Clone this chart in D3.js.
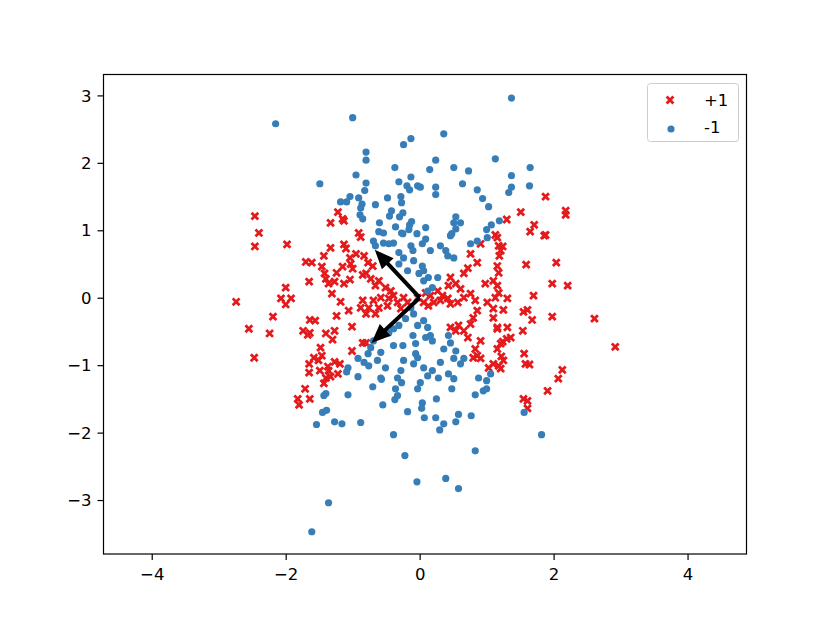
<!DOCTYPE html>
<html><head><meta charset="utf-8">
<script src="https://cdn.jsdelivr.net/npm/d3@7"></script>
<style>body{margin:0;background:#fff}svg{display:block}text{font-family:"DejaVu Sans",sans-serif}</style>
</head><body><svg id="c" width="830" height="623"></svg>
<script>
const xTicks=[-4,-2,0,2,4];
const yTicks=[-3,-2,-1,0,1,2,3];
const seriesNames=["+1","-1"];
const redPoints=[
[1.88,1.50],[1.51,1.27],[1.30,1.16],[2.18,1.29],[2.18,1.23],[1.71,1.08],[1.65,0.98],[1.88,0.93],[1.13,0.93],
[-2.46,1.21],[-2.40,0.96],[-1.22,1.27],[-1.33,1.11],[-1.15,1.17],[-1.13,1.14],[-0.91,0.96],
[-2.46,0.76],[-1.98,0.79],[-1.70,0.53],[-1.61,0.52],[-1.43,0.62],[-1.33,0.74],[-1.13,0.79],[-1.10,0.73],[-0.95,0.65],
[-1.04,0.59],[-0.88,0.90],[-1.03,0.50],[-1.15,0.46],[-1.00,0.43],[-1.24,0.37],[-1.46,0.46],[-1.42,0.36],[-1.40,0.28],
[-1.27,0.24],[-1.36,0.21],[-1.13,0.21],[-1.04,0.27],[-0.85,0.34],[-1.65,0.24],[-2.00,0.15],[-1.31,0.06],[-2.07,-0.01],
[-1.92,-0.01],[-2.00,-0.10],[-2.74,-0.06],[-1.18,-0.06],[-0.85,-0.04],[-0.88,-0.15],[-1.06,-0.19],[-1.24,-0.27],
[-2.19,-0.28],[-1.64,-0.33],[-1.56,-0.34],[-1.01,-0.43],[-2.55,-0.46],[-2.24,-0.53],[-1.74,-0.49],[-1.64,-0.52],
[-1.67,-0.55],[-1.40,-0.53],[-1.27,-0.49],[-1.30,-0.62],[-1.48,-0.74],[-1.01,-0.79],[-0.85,-0.67],[-1.46,-0.86],
[-1.58,-0.89],[-2.47,-0.89],[-1.51,-0.93],[-1.65,-0.98],[-1.27,-0.95],[-1.19,-0.98],[-1.37,-1.02],[-1.65,-1.11],
[-1.49,-1.08],[-1.36,-1.08],[-1.33,-1.17],[-1.22,-1.13],[-1.40,-1.19],[-1.43,-1.27],[-1.71,-1.35],[-1.64,-1.50],
[-1.82,-1.50],[-1.80,-1.59],
[2.07,-1.20],[1.91,-1.38],[1.55,-1.50],[1.61,-1.53],[1.61,-1.64],
[1.86,0.92],[1.16,0.89],[1.18,0.77],[1.24,0.76],[1.21,0.70],[1.19,0.62],[1.16,0.47],[1.18,0.37],[1.59,0.49],[2.04,0.52],
[1.98,0.21],[2.21,0.18],[1.16,0.18],[1.18,0.07],[1.70,0.03],[1.31,-0.01],[1.25,-0.18],[1.55,-0.21],[1.61,-0.18],
[1.68,-0.33],[1.98,-0.28],[2.61,-0.31],[1.31,-0.44],[1.16,-0.46],[1.54,-0.49],[1.36,-0.59],[1.30,-0.61],[1.24,-0.65],
[1.21,-0.68],[2.92,-0.73],[1.16,-0.76],[1.56,-0.83],[1.22,-0.87],[1.25,-0.93],[1.58,-0.98],[1.64,-0.99],[2.13,-1.07],
[1.18,-1.01],[1.21,-1.05],
[0.91,0.80],[0.76,0.65],[0.86,0.52],[0.72,0.44],[0.66,0.36],[0.46,0.30],[0.43,0.18],[0.54,0.21],[0.61,0.13],[0.98,0.21],
[1.10,0.25],[0.66,0.00],[0.76,0.06],[0.57,-0.07],[0.46,-0.09],[0.83,-0.04],[0.86,-0.19],[1.01,-0.07],[1.13,0.00],
[1.10,-0.16],[0.80,-0.30],[0.76,-0.39],[0.66,-0.49],[0.72,-0.59],[0.58,-0.41],[0.54,-0.49],[0.46,-0.44],[1.10,-0.30],
[1.16,-0.44],[0.91,-0.64],[0.83,-0.76],[0.86,-0.86],[0.91,-0.90],[1.10,-0.98],[1.03,-1.04],[0.80,-0.89],
[-0.83,0.62],[-0.77,0.52],[-0.70,0.47],[-0.80,0.36],[-0.73,0.28],[-0.61,0.25],[-0.66,0.18],[-0.51,0.15],[-0.43,0.10],
[-0.39,0.03],[-0.46,-0.01],[-0.58,0.00],[-0.69,-0.04],[-0.76,-0.15],[-0.61,-0.15],[-0.48,-0.12],[-0.33,-0.07],
[-0.24,0.00],[-0.18,-0.07],[-0.28,-0.16],[-0.80,-0.24],[-0.66,-0.24],[0.09,0.07],[0.16,0.03],[0.27,0.10],[0.34,0.03],
[0.21,-0.07],[0.31,-0.04],[0.42,-0.01],[0.13,-0.12],[0.06,-0.07],[-0.03,0.00],[-0.80,-0.67]
];
const bluePoints=[
[1.37,2.96],[-1.00,2.67],[-2.15,2.58],[0.36,2.43],[-0.13,2.36],[-0.24,2.27],[-0.80,2.16],[-0.80,2.04],[1.13,2.06],
[0.24,2.04],[-0.37,1.93],[0.15,1.90],[0.51,1.93],[0.73,1.88],[1.65,1.93],[-0.95,1.82],[-0.13,1.79],[1.37,1.81],
[-0.31,1.72],[-1.49,1.69],[-0.80,1.70],[0.64,1.69],[-0.19,1.66],[-0.03,1.66],[0.01,1.64],[0.24,1.64],[1.64,1.66],
[1.37,1.64],[-0.15,1.60],[-0.82,1.59],[0.24,1.53],[0.86,1.60],[1.33,1.56],[-1.04,1.50],[-0.48,1.48],[-0.28,1.50],
[-1.18,1.42],[-1.09,1.42],[-0.91,1.48],[-0.86,1.39],[-0.27,1.41],[-0.66,1.38],[0.94,1.47],[1.03,1.35],[-0.88,1.33],
[-0.42,1.29],[-0.45,1.21],[-0.25,1.26],[-0.89,1.23],[-0.30,1.20],[-0.85,1.17],[1.19,1.14],[-0.12,1.13],[-0.15,1.08],
[-0.60,1.11],[0.54,1.20],[0.51,1.11],[0.61,1.11],[0.54,1.02],[1.07,1.08],[1.00,1.01],[0.09,1.04],[-0.36,1.05],
[-0.16,1.01],[-0.27,0.96],[-0.61,0.98],[-0.54,0.96],[0.48,0.95],
[-0.66,0.77],[-0.69,0.84],[-0.54,0.81],[-0.46,0.80],[-0.39,0.81],[-0.25,0.95],[-0.13,0.77],[-0.10,0.70],[0.04,0.80],
[0.09,0.87],[-0.04,0.95],[0.16,0.70],[0.31,0.77],[0.39,0.70],[0.46,0.92],[0.42,0.62],[0.51,0.59],[0.76,0.80],
[0.86,0.84],[1.01,0.89],[-0.31,0.67],[-0.24,0.59],[-0.31,0.50],[-0.09,0.55],[0.04,0.47],[-0.18,0.40],[-0.01,0.36],
[0.06,0.40],[0.13,0.30],[0.19,0.15],[0.12,0.10],[0.06,0.25],[0.27,0.30],[-0.13,-0.15],[-0.09,-0.24],[-0.21,-0.31],
[-0.31,-0.41],[-0.39,-0.46],[-0.46,-0.52],[-0.58,-0.56],[-0.69,-0.64],[-0.03,-0.41],[0.06,-0.34],[0.12,-0.44],
[0.16,-0.56],[0.19,-0.64],[0.09,-0.59],[-0.10,-0.56],[-0.06,-0.68],[-0.25,-0.71],[-0.39,-0.71],[-0.73,-0.74],
[0.43,-0.56],[0.46,-0.67],[0.36,-0.76],[0.54,-0.79],[-0.58,-0.81],[-0.77,-0.83],[-0.06,-0.83],[-0.03,-0.89],
[0.66,-0.90],[0.51,-0.90],[0.31,-0.96],[-0.09,-0.98],[0.61,-0.98],[-0.24,-0.93],[-0.63,-0.93],[-0.51,-1.04],
[-0.76,-1.01],[-0.28,-1.08],[0.06,-1.04],[0.19,-1.08],[0.43,-1.13],[0.28,-1.19],[0.88,-1.19],[1.06,-1.13],
[-0.33,-1.19],[-0.58,-1.19],
[-0.92,-0.90],[-0.83,-0.96],[-1.07,-1.04],[-1.09,-1.10],[-0.92,-1.17],[-1.07,-1.44],[-1.43,-1.45],[-1.40,-1.42],
[-1.45,-1.70],[-1.39,-1.67],[-1.54,-1.88],[-1.27,-1.84],[-1.16,-1.87],[-0.88,-1.85],[-1.36,-3.04],[-1.61,-3.47],
[-0.70,-1.32],[-0.57,-1.21],[-0.27,-1.26],[-0.36,-1.35],[-0.33,-1.45],[-0.37,-1.51],[0.01,-1.26],[-0.03,-1.35],
[0.12,-1.16],[0.51,-1.20],[0.48,-1.35],[0.25,-1.50],[0.04,-1.56],[0.03,-1.64],[-0.55,-1.59],[-0.18,-1.69],
[0.07,-1.78],[0.24,-1.78],[0.36,-1.87],[0.30,-1.96],[0.58,-1.73],[0.54,-1.84],[0.77,-1.75],[0.83,-1.44],
[0.95,-1.38],[1.00,-1.35],[1.00,-1.23],[-0.39,-2.03],[-0.22,-2.34],[0.83,-2.27],[-0.04,-2.73],[0.39,-2.68],
[0.58,-2.83],[1.56,-1.70],[1.82,-2.03]
];
const arrowVectors=[[-0.67,0.71],[-0.72,-0.67]];

const svg=d3.select("#c");
const L=103.5,R=746.5,T=74.5,B=554;
const x=d3.scaleLinear().domain([-4.72,4.88]).range([L,R]);
const y=d3.scaleLinear().domain([-3.80,3.31]).range([B,T]);
const red="#e41a1c", blue="#377eb8";
const FS=16.5;

// axes
const xa=svg.append("g").attr("transform",`translate(0,${B})`)
 .call(d3.axisBottom(x).tickValues(xTicks).tickSize(6).tickPadding(6).tickFormat(d=>d<0?"\u2212"+(-d):d));
const ya=svg.append("g").attr("transform",`translate(${L},0)`)
 .call(d3.axisLeft(y).tickValues(yTicks).tickSize(6).tickPadding(6).tickFormat(d=>d<0?"\u2212"+(-d):d));
[xa,ya].forEach(g=>{g.select(".domain").remove();g.selectAll("line").attr("stroke","#000").attr("stroke-width",1.2);
 g.selectAll("text").attr("font-size",FS).attr("fill","#000").attr("font-family","DejaVu Sans");});
xa.selectAll("text").attr("dy","0.82em");
ya.selectAll("text").attr("dy","0.34em");

const plot=svg.append("g");
function xMark(g,cx,cy){
  const s=3.4;
  g.append("path").attr("d",`M${cx-s},${cy-s}L${cx+s},${cy+s}M${cx-s},${cy+s}L${cx+s},${cy-s}`)
   .attr("stroke",red).attr("stroke-width",2.8).attr("fill","none");
}
redPoints.forEach(p=>xMark(plot,x(p[0]),y(p[1])));
plot.selectAll("circle.b").data(bluePoints).join("circle").attr("class","b")
 .attr("cx",d=>x(d[0])).attr("cy",d=>y(d[1])).attr("r",3.6).attr("fill",blue);

// arrows
arrowVectors.forEach(v=>{
  const x0=x(0),y0=y(0),x1=x(v[0]),y1=y(v[1]);
  const dx=x1-x0,dy=y1-y0,len=Math.hypot(dx,dy),ux=dx/len,uy=dy/len,nx=-uy,ny=ux;
  const w=2,hl=19,hw=8;
  const bx=x1-ux*hl,by=y1-uy*hl;
  const pts=[[x0+nx*w,y0+ny*w],[bx+nx*w,by+ny*w],[bx+nx*hw,by+ny*hw],[x1,y1],[bx-nx*hw,by-ny*hw],[bx-nx*w,by-ny*w],[x0-nx*w,y0-ny*w]];
  svg.append("path").attr("d","M"+pts.map(p=>p.join(",")).join("L")+"Z").attr("fill","#000");
});

// frame
svg.append("rect").attr("x",L).attr("y",T).attr("width",R-L).attr("height",B-T)
 .attr("fill","none").attr("stroke","#000").attr("stroke-width",1.2);

// legend
const lg=svg.append("g");
lg.append("rect").attr("x",647.5).attr("y",83.5).attr("width",91).attr("height",58).attr("rx",3)
 .attr("fill","#fff").attr("fill-opacity",0.8).attr("stroke","#ccc").attr("stroke-width",1);
xMark(lg,670,100);
lg.append("circle").attr("cx",671).attr("cy",129).attr("r",3.6).attr("fill",blue);
lg.selectAll("text.l").data(seriesNames).join("text").attr("class","l")
 .attr("x",704).attr("y",(d,i)=>106+i*27).attr("font-size",FS).attr("fill","#000").text(d=>d);
</script></body></html>
